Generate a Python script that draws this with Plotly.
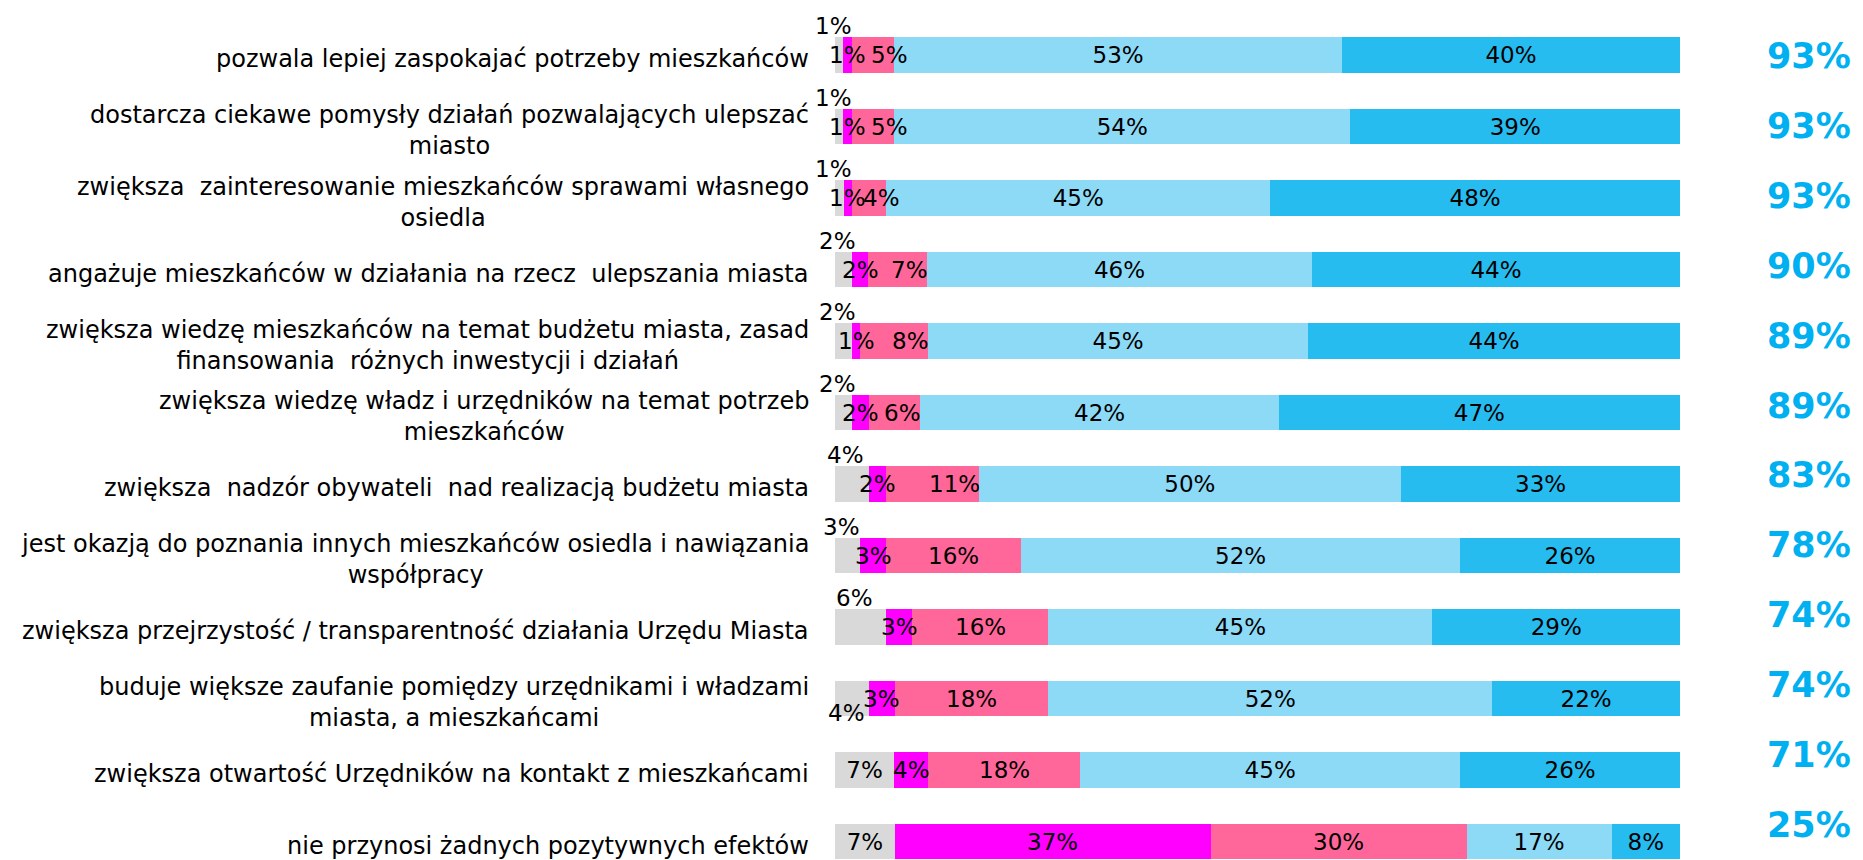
import plotly.graph_objects as go

# Survey statements (top to bottom) and answer shares in percent
statements = [
    "pozwala lepiej zaspokajać potrzeby mieszkańców",
    "dostarcza ciekawe pomysły działań pozwalających ulepszać<br>miasto",
    "zwiększa  zainteresowanie mieszkańców sprawami własnego<br>osiedla",
    "angażuje mieszkańców w działania na rzecz  ulepszania miasta",
    "zwiększa wiedzę mieszkańców na temat budżetu miasta, zasad<br>finansowania  różnych inwestycji i działań",
    "zwiększa wiedzę władz i urzędników na temat potrzeb<br>mieszkańców",
    "zwiększa  nadzór obywateli  nad realizacją budżetu miasta",
    "jest okazją do poznania innych mieszkańców osiedla i nawiązania<br>współpracy",
    "zwiększa przejrzystość / transparentność działania Urzędu Miasta",
    "buduje większe zaufanie pomiędzy urzędnikami i władzami<br>miasta, a mieszkańcami",
    "zwiększa otwartość Urzędników na kontakt z mieszkańcami",
    "nie przynosi żadnych pozytywnych efektów",
]

trudno_powiedziec = [1, 1, 1, 2, 2, 2, 4, 3, 6, 4, 7, 7]
zdecydowanie_nie = [1, 1, 1, 2, 1, 2, 2, 3, 3, 3, 4, 37]
raczej_nie = [5, 5, 4, 7, 8, 6, 11, 16, 16, 18, 18, 30]
raczej_tak = [53, 54, 45, 46, 45, 42, 50, 52, 45, 52, 45, 17]
zdecydowanie_tak = [40, 39, 48, 44, 44, 47, 33, 26, 29, 22, 26, 8]
razem_tak = [93, 93, 93, 90, 89, 89, 83, 78, 74, 74, 71, 25]

# where the small grey label sits relative to its bar
grey_label_pos = ["above"] * 9 + ["below", "inside", "inside"]
# "raczej nie" labels: spill past / sit at the end of the narrow segments
pink_label_pos = ["past"] * 3 + ["end"] * 4 + ["middle"] * 5

FONT = "DejaVu Sans"
W, H = 1863, 860
OFF = 8  # page body margin
rows = list(range(len(statements)))
txt_font = dict(family=FONT, size=23, color="#000000")

series = [
    (trudno_powiedziec, "#D9D9D9"),
    (zdecydowanie_nie, "#FF00FF"),
    (raczej_nie, "#FF6699"),
    (raczej_tak, "#8DDAF7"),
    (zdecydowanie_tak, "#27BCF0"),
]

fig = go.Figure()
for i, (vals, color) in enumerate(series):
    if i == 0:
        pos = ["inside" if p == "inside" else "none" for p in grey_label_pos]
    elif i in (1, 2):
        pos = "none"  # labelled with annotations below so they can spill over
    else:
        pos = "inside"
    fig.add_trace(go.Bar(
        y=rows, x=vals, orientation="h", width=0.5,
        marker=dict(color=color, line=dict(width=0)),
        text=[f"{v}%" for v in vals], textposition=pos,
        insidetextanchor="middle", textangle=0, textfont=txt_font,
        hoverinfo="skip", showlegend=False,
    ))

annotations = []
# statement labels, centred lines, right edge next to the bars
for r, s in zip(rows, statements):
    annotations.append(dict(
        x=(811 - OFF) / W, xref="paper", xanchor="right", y=r, yref="y",
        yshift=-4, text=s, align="center", showarrow=False,
        font=dict(family=FONT, size=24, color="#000000"),
    ))

totals = [sum(v) for v in zip(trudno_powiedziec, zdecydowanie_nie, raczej_nie,
                              raczej_tak, zdecydowanie_tak)]

# grey labels that don't fit in the bar
for r, p in zip(rows, grey_label_pos):
    if p == "inside":
        continue
    annotations.append(dict(
        x=trudno_powiedziec[r] / totals[r] * 100 / 2, xref="x", y=r, yref="y",
        yshift=29 if p == "above" else -14, xshift=-6,
        text=f"{trudno_powiedziec[r]}%", showarrow=False, font=txt_font,
    ))

# "zdecydowanie nie" labels
for r in rows:
    mid = trudno_powiedziec[r] + zdecydowanie_nie[r] / 2
    annotations.append(dict(
        x=mid / totals[r] * 100, xref="x", y=r, yref="y", xshift=0,
        text=f"{zdecydowanie_nie[r]}%", showarrow=False, font=txt_font,
    ))

# "raczej nie" labels
for r, p in zip(rows, pink_label_pos):
    start = trudno_powiedziec[r] + zdecydowanie_nie[r]
    end = start + raczej_nie[r]
    if p == "past":
        ann = dict(x=end / totals[r] * 100, xanchor="right", xshift=16)
    elif p == "end":
        ann = dict(x=end / totals[r] * 100, xanchor="right", xshift=3)
    else:
        ann = dict(x=(start + end) / 2 / totals[r] * 100, xanchor="center")
    ann.update(xref="x", y=r, yref="y", text=f"{raczej_nie[r]}%",
               showarrow=False, font=txt_font)
    annotations.append(ann)

# "tak" totals column on its own slightly compressed axis
for r, t in zip(rows, razem_tak):
    annotations.append(dict(
        x=(1853 - OFF) / W, xref="paper", xanchor="right", y=r, yref="y2",
        text=f"{t}%", showarrow=False,
        font=dict(family=FONT, size=35, color="#00B0F0", weight="bold"),
    ))

fig.update_layout(
    width=W, height=H,
    barmode="stack", barnorm="percent",
    margin=dict(l=0, r=0, t=0, b=0),
    paper_bgcolor="#ffffff", plot_bgcolor="#ffffff",
    xaxis=dict(domain=[(835 - OFF) / W, (1680 - OFF) / W], range=[0, 100],
               visible=False, fixedrange=True),
    yaxis=dict(range=[(H - 55 + OFF) / 71.5, -(55 - OFF) / 71.5], visible=False, fixedrange=True),
    yaxis2=dict(range=[(H - 56 + OFF) / 69.9, -(56 - OFF) / 69.9], overlaying="y",
                visible=False, fixedrange=True),
    uniformtext=dict(minsize=23, mode="show"),
    annotations=annotations,
)

fig.write_html("out.html")
